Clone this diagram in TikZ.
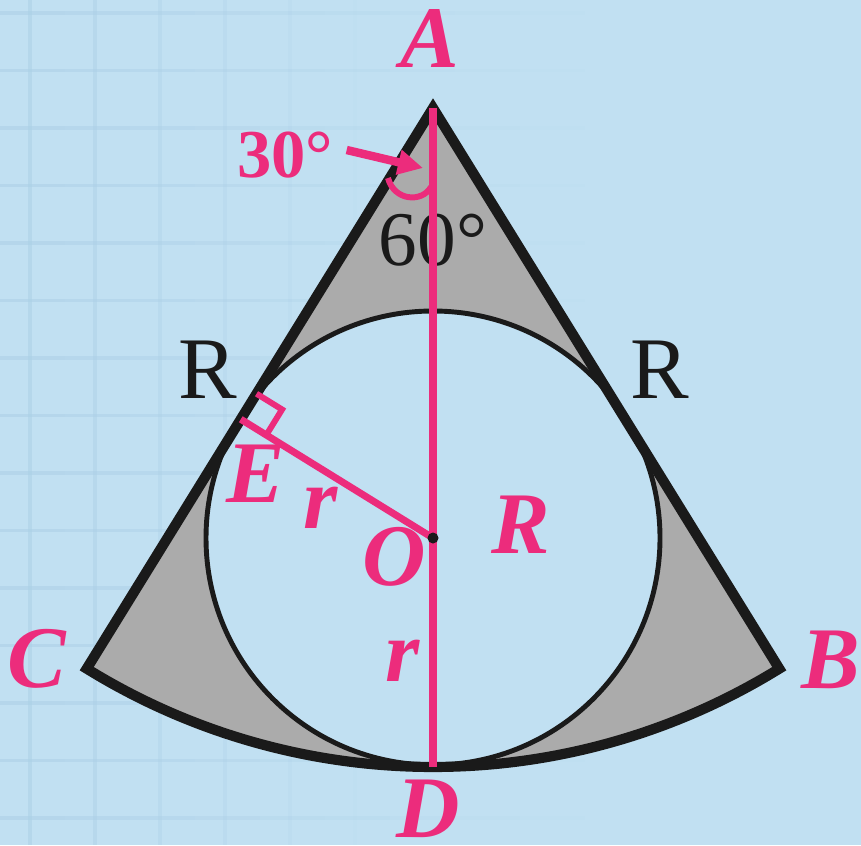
\documentclass[tikz,border=0pt]{standalone}
\usepackage{fontspec}
\setmainfont{Liberation Serif}
\usetikzlibrary{arrows.meta, calc}
\definecolor{sfondo}{HTML}{C1E0F2}
\definecolor{griglia}{HTML}{ACD0E7}
\definecolor{rosa}{HTML}{EC2C7C}
\definecolor{grigio}{HTML}{ABABAB}
\definecolor{nero}{HTML}{1A1A1A}
\tikzset{
  % griglia di sfondo
  gridline/.style={griglia, line width=1pt},
  % settore circolare e cerchio inscritto
  sector/.style={draw=nero, line width=2.9pt, line join=miter},
  incircle/.style={draw=nero, line width=1.4pt},
  dot/.style={circle, fill=nero, minimum size=0.11cm, inner sep=0pt},
  % segmenti in rosa
  pinkline/.style={rosa, line width=2pt},
  pinkarrow/.style={rosa, line width=2.4pt, -{Triangle[length=2.5mm, width=2.4mm]}},
  % etichette
  plbl/.style={rosa, font=\fontsize{25}{28}\selectfont\bfseries\itshape, inner sep=0pt},
  blbl/.style={nero, font=\fontsize{25}{28}\selectfont, inner sep=0pt},
  anglbl/.style={rosa, font=\fontsize{19.5}{22}\selectfont\bfseries, inner sep=0pt},
}

\begin{document}
\begin{tikzpicture}
  \fill[sfondo] (0,0) rectangle (8.61,8.45);
  \useasboundingbox (0,0) rectangle (8.61,8.45);
  % griglia che sfuma verso destra
  \foreach \i in {0,...,9} {
    \pgfmathsetmacro\gx{0.30+0.65*\i}
    \pgfmathsetmacro\op{max(0,0.6-\gx/6.5)}
    \draw[gridline, opacity=\op] (\gx,0) -- (\gx,8.45);
  }
  \foreach \j in {0,...,14} {
    \pgfmathsetmacro\gy{8.32-0.575*\j}
    \foreach \i in {0,...,9} {
      \pgfmathsetmacro\gx{0.65*\i}
      \pgfmathsetmacro\op{max(0,0.6-(\gx+0.3)/10)}
      \draw[gridline, opacity=\op] (\gx,\gy) -- ++(0.65,0);
    }
  }
  % punti della figura
  \coordinate (A) at (4.33,7.37);
  \coordinate (O) at (4.33,3.07);
  \coordinate (D) at ($(A)+(270:6.59)$);
  \coordinate (C) at ($(A)+(238.3:6.59)$);
  \coordinate (B) at ($(A)+(301.7:6.59)$);
  \coordinate (E) at ($(A)!(O)!(C)$);
  % settore e cerchio
  \fill[grigio] (A) -- (C) arc[start angle=238.3, end angle=301.7, radius=6.59] -- cycle;
  \fill[sfondo] (O) circle[radius=2.27];
  \draw[incircle] (O) circle[radius=2.27];
  \draw[sector] (A) -- (C) arc[start angle=238.3, end angle=301.7, radius=6.59] -- cycle;
  \node[blbl, font=\fontsize{22}{24}\selectfont] (l60) at (4.33,6.05) {60°};
  % segmenti rosa
  \draw[pinkline] (A) -- (D);
  \draw[pinkline] (E) -- (O);
  \coordinate (E1) at ($(E)!0.3cm!(A)$);
  \coordinate (E2) at ($(E)!0.3cm!(O)$);
  \draw[pinkline, line width=1.7pt] (E1) -- ($(E1)+(E2)-(E)$) -- (E2);
  \draw[pinkline, line width=1.7pt] (3.88,6.67) .. controls (3.94,6.44) and (4.22,6.42) .. (4.31,6.58);
  \node[dot] (Odot) at (O) {};
  % etichette
  \node[plbl] (lA) at (4.30,8.07) {A};
  \node[plbl] (lB) at (8.31,1.85) {B};
  \node[plbl] (lC) at (0.37,1.86) {C};
  \node[plbl] (lD) at (4.28,0.36) {D};
  \node[plbl] (lE) at (2.56,3.71) {E};
  \node[plbl] (lO) at (3.94,2.88) {O};
  \node[plbl] (lR) at (5.21,3.20) {R};
  \node[plbl] (lr1) at (3.21,3.37) {r};
  \node[plbl] (lr2) at (4.03,1.84) {r};
  \node[blbl] (lRl) at (2.08,4.75) {R};
  \node[blbl] (lRr) at (6.60,4.75) {R};
  \node[anglbl] (l30) at (2.85,6.90) {30°};
  \coordinate (h30) at (4.23,6.77);
  \draw[pinkarrow] ($(l30.east)+(0.13,0.05)$) -- (h30);
\end{tikzpicture}
\end{document}
